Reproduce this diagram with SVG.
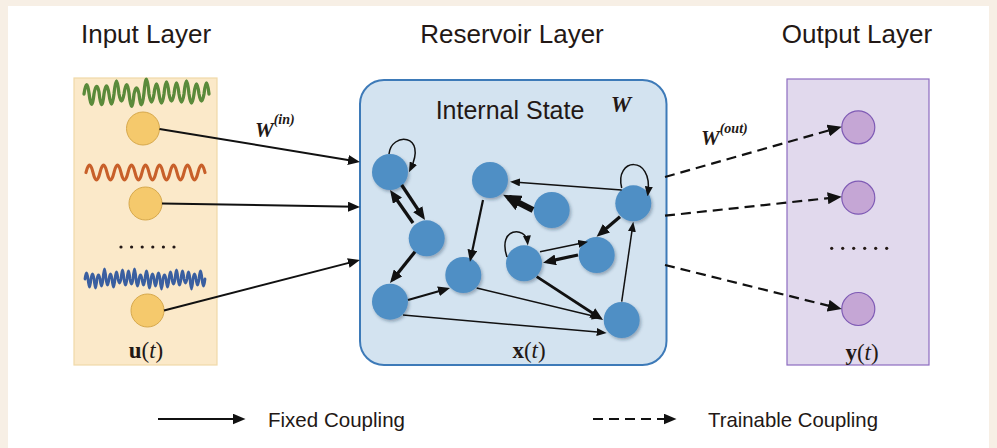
<svg xmlns="http://www.w3.org/2000/svg" width="997" height="448" viewBox="0 0 997 448">
<style>
.title{font-family:"Liberation Sans",Arial,sans-serif;font-size:26px;fill:#231815;text-anchor:middle}
.legend{font-family:"Liberation Sans",Arial,sans-serif;font-size:21px;fill:#231815}
.math{font-family:"Liberation Serif","Times New Roman",serif;fill:#231815}
.wb{font-family:"Liberation Serif","Times New Roman",serif;font-weight:bold;font-style:italic;fill:#231815}
.rnode{fill:#4f8fc5;filter:url(#sh)}
.incirc{fill:#f5c96c;stroke:#d6a84c;stroke-width:1}
.outcirc{fill:#c5a6d5;stroke:#7f5bb5;stroke-width:1.2}
.thin{stroke:#111;stroke-width:1.5;fill:none;marker-end:url(#ahs)}
.mid{stroke:#111;stroke-width:2.2;fill:none;marker-end:url(#ahi)}
.thick{stroke:#111;stroke-width:3.3;fill:none;marker-end:url(#ahm)}
.vthick{stroke:#111;stroke-width:6;fill:none;marker-end:url(#ahl)}
.inarr{stroke:#111;stroke-width:2;fill:none;marker-end:url(#ahi)}
.dash{stroke:#111;stroke-width:2.2;fill:none;stroke-dasharray:10 6;marker-end:url(#ahd)}
.wave{fill:none;stroke-linecap:round;stroke-linejoin:round}
</style>
<defs>
<filter id="sh" x="-30%" y="-30%" width="170%" height="170%">
<feDropShadow dx="1.5" dy="2" stdDeviation="1.5" flood-color="#1a3550" flood-opacity="0.35"/>
</filter>
<marker id="ahs" markerUnits="userSpaceOnUse" viewBox="0 0 10 8" markerWidth="10" markerHeight="8" refX="6.5" refY="4" orient="auto"><path d="M0,0 L10,4 L0,8 z" fill="#111"/></marker>
<marker id="ahi" markerUnits="userSpaceOnUse" viewBox="0 0 12 10" markerWidth="12" markerHeight="10" refX="7.5" refY="5" orient="auto"><path d="M0,0 L12,5 L0,10 z" fill="#111"/></marker>
<marker id="ahm" markerUnits="userSpaceOnUse" viewBox="0 0 13 11" markerWidth="13" markerHeight="11" refX="8.5" refY="5.5" orient="auto"><path d="M0,0 L13,5.5 L0,11 z" fill="#111"/></marker>
<marker id="ahl" markerUnits="userSpaceOnUse" viewBox="0 0 18 16" markerWidth="18" markerHeight="16" refX="11.5" refY="8" orient="auto"><path d="M0,0 L18,8 L0,16 z" fill="#111"/></marker>
<marker id="ahd" markerUnits="userSpaceOnUse" viewBox="0 0 14 12" markerWidth="14" markerHeight="12" refX="8.5" refY="6" orient="auto"><path d="M0,0 L14,6 L0,12 z" fill="#111"/></marker>
</defs>

<rect x="0" y="0" width="997" height="448" fill="#f7efe5"/>
<rect x="8" y="6" width="981" height="442" fill="#ffffff"/>

<text class="title" x="146" y="43">Input Layer</text>
<text class="title" x="512" y="43">Reservoir Layer</text>
<text class="title" x="857" y="43">Output Layer</text>

<g id="input-layer">
<rect x="74" y="78" width="143" height="287" fill="#fbe9c9" stroke="#f0d9a8" stroke-width="1.2"/>
<path class="wave" stroke="#5a8a3a" stroke-width="3.3" d="M84,94 q2.5,-18 5,-1 q2.5,22 5,1 q2.5,-14 5,-2 q2.5,24 5,2 q2.5,-16 5,0 q2.5,20 5,0 q2.5,-26 5,0 q2.5,14 5,0 q2.5,-18 5,-1 q2.5,26 5,1 q2.5,-12 5,0 q2.5,22 5,-1 q2.5,-28 5,1 q2.5,16 5,0 q2.5,-20 5,0 q2.5,18 5,0 q2.5,-24 5,0 q2.5,14 5,0 q2.5,-22 5,0 q2.5,16 5,0 q2.5,-26 5,0 q2.5,18 5,0 q2.5,-20 5,0 q2.5,14 5,0 q2.5,-22 5,0"/>
<path class="wave" stroke="#c8602a" stroke-width="3.2" d="M86,172.5 q3.5,-15 7,0 t7,0 t7,0 t7,0 t7,0 t7,0 t7,0 t7,0 t7,0 t7,0 t7,0 t7,0 t7,0 t7,0 t7,0 t7,0 t7,0"/>
<path class="wave" stroke="#3a5fa0" stroke-width="2.8" d="M85,279 q1.5,-12 3,0 q1.5,16 3,0 q1.5,-10 3,0 q1.5,18 3,0 q1.5,-8 3,0 q1.5,14 3,0 q1.5,-20 3,0 q1.5,12 3,0 q1.5,-10 3,0 q1.5,16 3,0 q1.5,-14 3,0 q1.5,8 3,0 q1.5,-18 3,0 q1.5,12 3,0 q1.5,-16 3,0 q1.5,10 3,0 q1.5,-20 3,0 q1.5,14 3,0 q1.5,-8 3,0 q1.5,12 3,0 q1.5,-16 3,0 q1.5,18 3,0 q1.5,-10 3,0 q1.5,14 3,0 q1.5,-12 3,0 q1.5,20 3,0 q1.5,-8 3,0 q1.5,16 3,0 q1.5,-14 3,0 q1.5,10 3,0 q1.5,-18 3,0 q1.5,12 3,0 q1.5,-16 3,0 q1.5,8 3,0 q1.5,-14 3,0 q1.5,20 3,0 q1.5,-10 3,0 q1.5,12 3,0 q1.5,-16 3,0 q1.5,14 3,0"/>
<g fill="#231815"><circle cx="121" cy="247" r="1.6"/><circle cx="131.6" cy="247" r="1.6"/><circle cx="142.2" cy="247" r="1.6"/><circle cx="152.8" cy="247" r="1.6"/><circle cx="163.4" cy="247" r="1.6"/><circle cx="174" cy="247" r="1.6"/></g>
<text class="math" x="146" y="358" font-size="23" text-anchor="middle"><tspan font-weight="bold">u</tspan>(<tspan font-style="italic">t</tspan>)</text>
</g>
<g id="in-1"><circle class="incirc" cx="143" cy="128.5" r="16.5"/></g>
<g id="in-2"><circle class="incirc" cx="145.5" cy="203.5" r="16.5"/></g>
<g id="in-3"><circle class="incirc" cx="147.5" cy="310.5" r="16.5"/></g>

<g id="reservoir">
<rect x="360" y="80" width="306.5" height="285" rx="24" ry="24" fill="#d3e3f0" stroke="#3d7ab8" stroke-width="2"/>
<text x="510" y="119" font-family="'Liberation Sans',Arial,sans-serif" font-size="25" fill="#231815" text-anchor="middle">Internal State</text>
<text class="wb" x="621" y="112" font-size="23" text-anchor="middle">W</text>
<text class="math" x="529" y="358" font-size="23" text-anchor="middle"><tspan font-weight="bold">x</tspan>(<tspan font-style="italic">t</tspan>)</text>
</g>
<g id="r1"><circle class="rnode" cx="390" cy="172" r="18"/></g>
<g id="r2"><circle class="rnode" cx="426.7" cy="238.3" r="18"/></g>
<g id="r3"><circle class="rnode" cx="390" cy="301.7" r="18"/></g>
<g id="r4"><circle class="rnode" cx="463.3" cy="275" r="18"/></g>
<g id="r5"><circle class="rnode" cx="490" cy="180" r="18"/></g>
<g id="r6"><circle class="rnode" cx="551.7" cy="210" r="18"/></g>
<g id="r7"><circle class="rnode" cx="633.3" cy="203.3" r="18"/></g>
<g id="r8"><circle class="rnode" cx="596.7" cy="255" r="18"/></g>
<g id="r9"><circle class="rnode" cx="524" cy="263.3" r="18"/></g>
<g id="r10"><circle class="rnode" cx="621.7" cy="320" r="18"/></g>

<g id="output-layer">
<rect x="787" y="79" width="142" height="286" fill="#e1d9ed" stroke="#8d6cc0" stroke-width="1.2"/>
<g fill="#231815"><circle cx="831.7" cy="248.3" r="1.6"/><circle cx="842.7" cy="248.3" r="1.6"/><circle cx="853.7" cy="248.3" r="1.6"/><circle cx="864.7" cy="248.3" r="1.6"/><circle cx="875.7" cy="248.3" r="1.6"/><circle cx="886.7" cy="248.3" r="1.6"/></g>
<text class="math" x="862" y="360" font-size="23" text-anchor="middle"><tspan font-weight="bold">y</tspan>(<tspan font-style="italic">t</tspan>)</text>
</g>
<g id="out-1"><circle class="outcirc" cx="858.3" cy="127.3" r="16.5"/></g>
<g id="out-2"><circle class="outcirc" cx="858.3" cy="197.7" r="16.5"/></g>
<g id="out-3"><circle class="outcirc" cx="858.3" cy="309" r="16.5"/></g>

<g id="connectors">
<path class="inarr" d="M159.5,129 L355.5,161.2"/>
<path class="inarr" d="M162,203.5 L355.5,206.8"/>
<path class="inarr" d="M164,310.5 L355.6,261.1"/>
<text class="wb" x="255" y="137" font-size="21">W<tspan font-size="14" dy="-13">(in)</tspan></text>

<path class="dash" d="M665,177 L836.4,128.2"/>
<path class="dash" d="M665,215.7 L836.2,197.3"/>
<path class="dash" d="M665,265 L836.4,307.7"/>
<text class="wb" x="701" y="145" font-size="21">W<tspan font-size="14" dy="-12">(out)</tspan></text>

<path class="thin" d="M389,154 C391,132 428,133 410.5,169"/>
<path class="thick" d="M401.7,185 L422.5,216.3"/>
<path class="thick" d="M413,223 L392.6,193.7"/>
<path class="thick" d="M415,251.7 L392.8,279.5"/>
<path class="mid" d="M408,300 L445.7,289.2"/>
<path class="mid" d="M483,200 L470.9,257.3"/>
<path class="thin" d="M621.7,190 L513.5,181.9"/>
<path class="vthick" d="M533,210 L508.9,197.8"/>
<path class="thin" d="M621.7,188 C614,158 653,154 648,193"/>
<path class="thin" d="M507,257 C497,227 526,226 527.5,242"/>
<path class="thick" d="M620,216.7 L600,233.8"/>
<path class="thin" d="M540,251.7 L584.6,242.4"/>
<path class="thick" d="M578,255 L547.4,261.7"/>
<path class="thick" d="M536.7,276.7 L599.3,317.5" style="stroke-width:2.8"/>
<path class="thin" d="M476.7,288 L598.3,317.2"/>
<path class="thin" d="M403,315 L603.2,332.6"/>
<path class="thin" d="M621.7,301.7 L632.8,225.2"/>
</g>

<g id="legend">
<path d="M158,419 L241,419" stroke="#111" stroke-width="2.2" fill="none" marker-end="url(#ahm)"/>
<text class="legend" x="268" y="427" textLength="137" lengthAdjust="spacingAndGlyphs">Fixed Coupling</text>
<path d="M593,419 L672,419" stroke="#111" stroke-width="2" stroke-dasharray="10 6" fill="none" marker-end="url(#ahm)"/>
<text class="legend" x="708" y="427" textLength="170" lengthAdjust="spacingAndGlyphs">Trainable Coupling</text>
</g>
</svg>
